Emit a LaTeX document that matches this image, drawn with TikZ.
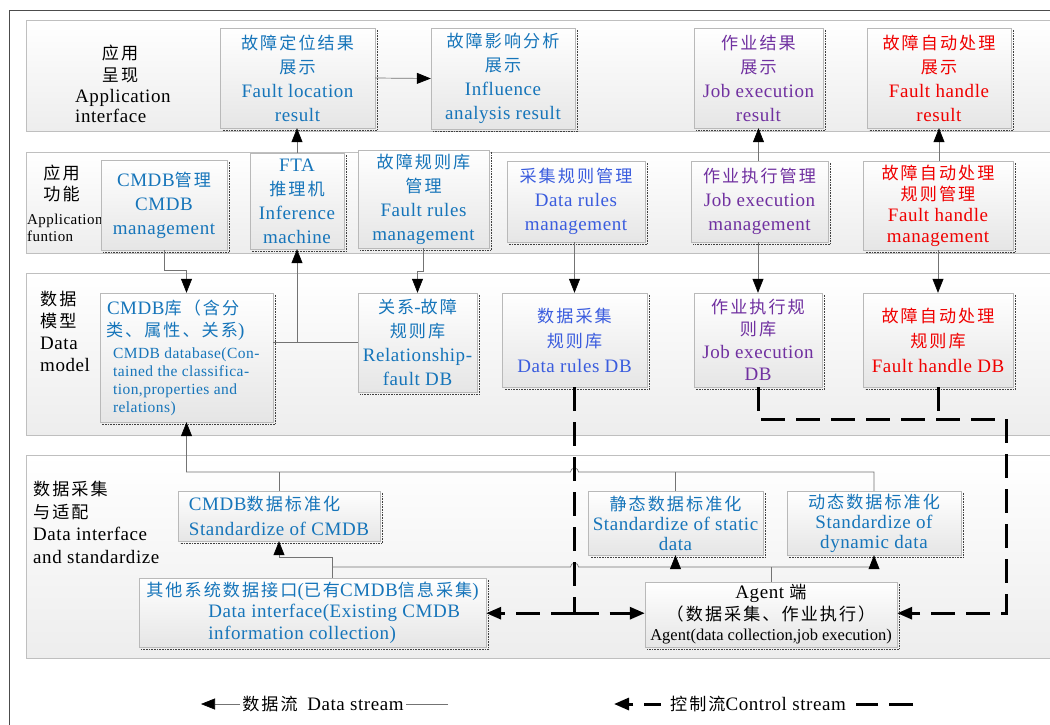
\documentclass[tikz,border=0pt]{standalone}
\usepackage{fontspec}
\setmainfont{Liberation Serif}[LetterSpace=3]
\newfontfamily\cjk{Noto Sans CJK SC}[Scale=0.9,LetterSpace=12]
\usetikzlibrary{arrows.meta,calc}
\definecolor{cblue}{RGB}{22,117,186}
\definecolor{rblue}{RGB}{58,92,222}
\definecolor{cpurple}{RGB}{112,48,160}
\definecolor{cred}{RGB}{240,0,0}
\newcommand\bxsh[1]{\draw[shline] ([shift={(2,2)}]#1.north east) -- ([shift={(2,2)}]#1.south east) -- ([shift={(2,2)}]#1.south west);}
\tikzset{
  band/.style={draw=gray!50, top color=white, bottom color=gray!14},
  box/.style={draw=gray!55, top color=white, bottom color=gray!20, inner sep=0pt, align=center, font=\fontsize{19}{24}\selectfont},
  shline/.style={black!75, densely dotted, line width=0.6pt},
  link/.style={draw=black!55, line width=0.7pt},
  flow/.style={link, -{Triangle[length=14pt,width=11pt,color=black]}},
  ctrl/.style={black, line width=3pt, dash pattern=on 24pt off 11pt},
  ctrltip/.style={-{Triangle[length=15pt,width=12pt]}},
  lbl/.style={inner sep=0pt, align=left},
  lgd/.style={fill=white, inner sep=2pt, minimum height=24, font=\fontsize{19}{22}\selectfont}
}
\begin{document}
\begin{tikzpicture}[x=1pt,y=-1pt]
\useasboundingbox (0,0) rectangle (1050,724);
\clip (0,0) rectangle (1050,724);
\fill[white] (0,0) rectangle (1050,724);
\draw[black!70, line width=1pt] (9,10) rectangle (1100,800);
% layer bands
\path[band] (26,20) rectangle (1100,131);
\path[band] (26,152) rectangle (1100,253);
\path[band] (26,273) rectangle (1100,435);
\path[band] (26,455) rectangle (1100,658);
% layer labels
\node[lbl, align=center, font=\fontsize{19}{22}\selectfont] (l1c) at (120,64) {{\cjk 应用}\\{\cjk 呈现}};
\node[lbl, anchor=west, font=\fontsize{19}{20}\selectfont] (l1e) at (75,106) {Application\\interface};
\node[lbl, align=center, font=\fontsize{19}{21}\selectfont] (l2c) at (61.5,183.5) {{\cjk 应用}\\{\cjk 功能}};
\node[lbl, anchor=west, font=\fontsize{15}{17}\selectfont] (l2e) at (27,227.5) {Application\\funtion};
\node[lbl, anchor=west, font=\fontsize{19}{22}\selectfont] (l3) at (40,331) {{\cjk 数据}\\{\cjk 模型}\\Data\\model};
\node[lbl, anchor=west, font=\fontsize{19}{22.6}\selectfont] (l4) at (33,522.5) {{\cjk 数据采集}\\{\cjk 与适配}\\Data interface\\and standardize};
% layer 1
\node[box, text=cblue, minimum width=155, minimum height=100] (fl) at (297.5,78) {{\cjk 故障定位结果}\\{\cjk 展示}\\Fault location\\result};
\node[box, text=cblue, minimum width=144, minimum height=101] (ia) at (503,78.5) {{\cjk 故障影响分析}\\{\cjk 展示}\\Influence\\analysis result};
\node[box, text=cpurple, minimum width=129, minimum height=100] (jr) at (758.5,78) {{\cjk 作业结果}\\{\cjk 展示}\\Job execution\\result};
\node[box, text=cred, minimum width=144, minimum height=100] (fr) at (939,78) {{\cjk 故障自动处理}\\{\cjk 展示}\\Fault handle\\result};
% layer 2
\node[box, text=cblue, minimum width=126, minimum height=90] (cm) at (164,205) {CMDB{\cjk 管理}\\CMDB\\management};
\node[box, text=cblue, minimum width=94, minimum height=96] (fta) at (297,201) {FTA\\{\cjk 推理机}\\Inference\\machine};
\node[box, text=cblue, minimum width=131, minimum height=98] (frm) at (423.5,199) {{\cjk 故障规则库}\\{\cjk 管理}\\Fault rules\\management};
\node[box, text=rblue, minimum width=138, minimum height=81] (drm) at (576,201.5) {{\cjk 采集规则管理}\\Data rules\\management};
\node[box, text=cpurple, minimum width=137, minimum height=81] (jem) at (759.5,201.5) {{\cjk 作业执行管理}\\Job execution\\management};
\node[box, text=cred, minimum width=150, minimum height=89, font=\fontsize{19}{21}\selectfont] (fhm) at (938,205.5) {{\cjk 故障自动处理}\\{\cjk 规则管理}\\Fault handle\\management};
% layer 3
\node[box, text=cblue, minimum width=173, minimum height=129] (cdb) at (186.5,357.5) {\parbox{165pt}{\raggedright
  \fontsize{19}{22}\selectfont\hspace*{3pt}CMDB{\cjk 库（含分}\par
  \hspace*{2pt}{\cjk 类、属性、关系}) \par\vspace{4pt}
  \fontsize{15.5}{18}\selectfont\hspace*{9pt}CMDB database(Con-\par
  \hspace*{9pt}tained the classifica-\par
  \hspace*{9pt}tion,properties and\par
  \hspace*{9pt}relations)}};
\node[box, text=cblue, minimum width=119, minimum height=99] (rf) at (417.5,342.5) {{\cjk 关系}-{\cjk 故障}\\{\cjk 规则库}\\Relationship-\\fault DB};
\node[box, text=rblue, minimum width=145, minimum height=94, font=\fontsize{19}{25}\selectfont] (ddb) at (574.5,340) {{\cjk 数据采集}\\{\cjk 规则库}\\Data rules DB};
\node[box, text=cpurple, minimum width=128, minimum height=94, font=\fontsize{19}{22.5}\selectfont] (jdb) at (758,340) {{\cjk 作业执行规}\\{\cjk 则库}\\Job execution\\DB};
\node[box, text=cred, minimum width=150, minimum height=94, font=\fontsize{19}{25}\selectfont] (fdb) at (938,340) {{\cjk 故障自动处理}\\{\cjk 规则库}\\Fault handle DB};
% layer 4
\node[box, text=cblue, minimum width=202, minimum height=50, align=left, font=\fontsize{19}{25}\selectfont] (sc) at (279,516) {CMDB{\cjk 数据标准化}\\Standardize of CMDB};
\node[box, text=cblue, minimum width=175, minimum height=64, font=\fontsize{19}{20}\selectfont] (ss) at (675.5,523) {{\cjk 静态数据标准化}\\Standardize of static\\data};
\node[box, text=cblue, minimum width=174, minimum height=64, font=\fontsize{19}{20}\selectfont] (sd) at (874,523) {{\cjk 动态数据标准化}\\Standardize of\\dynamic data};
\node[box, text=cblue, minimum width=347, minimum height=69, align=left, font=\fontsize{19}{21.5}\selectfont] (di) at (312.5,612.5) {{\cjk 其他系统数据接口}({\cjk 已有}CMDB{\cjk 信息采集})\\\hspace*{62pt}Data interface(Existing CMDB\\\hspace*{62pt}information collection)};
\node[box, text=black, minimum width=252, minimum height=65, font=\fontsize{19}{22}\selectfont] (ag) at (771,614.5) {Agent {\cjk 端}\\{\cjk （数据采集、作业执行）}\\[-2pt]{\fontsize{16.5}{18}\selectfont\addfontfeature{LetterSpace=0}Agent(data collection,job execution)}};
% shadows
\foreach \b in {fl,ia,jr,fr,cm,fta,frm,drm,jem,fhm,cdb,rf,ddb,jdb,fdb,sc,ss,sd,di,ag} {\bxsh{\b}}
% helper coordinates
\coordinate (y270) at (0,270);
\coordinate (y271) at (0,271);
\coordinate (y342) at (0,342);
\coordinate (y472) at (0,472);
\coordinate (j1) at (332,557);
\coordinate (j2) at (332,567);
\coordinate (hop1) at (ddb.south |- y472);
\coordinate (hop2) at (ddb.south |- j2);
\coordinate (c1) at ($(ddb.south)+(0,226)$);
\coordinate (c2) at (1006,419);
\coordinate (c3) at (c2 |- c1);
% data flows
\draw[flow] (fl.east) -- (ia.west);
\draw[flow] (fta.north) -- (fta.north |- fl.south);
\draw[flow] (jr.south |- jem.north) -- (jr.south);
\draw[flow] (fr.south |- fhm.north) -- (fr.south);
\draw[flow] (cm.south) -- (cm.south |- y270) -| (cdb.north);
\draw[link] (cdb.east |- y342) -- (rf.west |- y342);
\draw[flow] (fta.south |- y342) -- (fta.south);
\draw[flow] (frm.south) -- (frm.south |- y271) -| (rf.north);
\draw[flow] (drm.south -| ddb.north) -- (ddb.north);
\draw[flow] (jem.south -| jdb.north) -- (jdb.north);
\draw[flow] (fhm.south -| fdb.north) -- (fdb.north);
\draw[flow] (sd.north) -- (sd.north |- y472) -- ([xshift=4pt]hop1) arc[start angle=0,end angle=-180,radius=4] -- (cdb.south |- y472) -- (cdb.south);
\draw[link] (ss.north) -- (ss.north |- y472);
\draw[link] (sc.north) -- (sc.north |- y472);
\draw[flow] (di.north -| j1) -- (j1) -| (sc.south);
\draw[link] (j2) -- ([xshift=-4pt]hop2) arc[start angle=180,end angle=360,radius=4] -- (sd.south |- j2);
\draw[flow] (ss.south |- j2) -- (ss.south);
\draw[flow] (sd.south |- j2) -- (sd.south);
\draw[link] (ag.north) -- (ag.north |- j2);
% control flows
\draw[ctrl] (ddb.south) -- (c1);
\draw[ctrl, ctrltip] (c1) -- (c1 -| di.east);
\draw[ctrl, ctrltip] (c1) -- (c1 -| ag.west);
\draw[ctrl, ctrltip] (jdb.south) |- (c2) -- (c3) -- (c3 -| ag.east);
\draw[ctrl] (fdb.south) -- (fdb.south |- c2);
% legend
\coordinate (lgd1) at (201,704);
\coordinate (lgd2) at (448,704);
\coordinate (lgc1) at (614,704);
\coordinate (lgc2) at (913,704);
\draw[flow] (lgd2) -- (lgd1);
\node[lgd] (lg1) at (323,704) {{\cjk 数据流}\enspace Data stream};
\draw[ctrl, ctrltip] (lgc2) -- (lgc1);
\node[lgd, minimum width=195] (lg2) at (758,704) {{\cjk 控制流}Control stream};
\end{tikzpicture}
\end{document}
